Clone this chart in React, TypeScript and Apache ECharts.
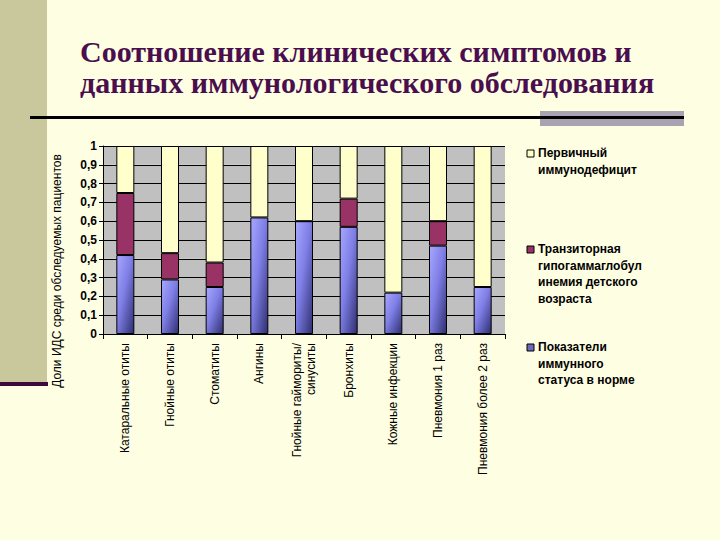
import React, { useEffect, useRef } from "react";
import * as echarts from "echarts";

const categories = [
  "Катаральные отиты",
  "Гнойные отиты",
  "Стоматиты",
  "Ангины",
  "Гнойные гаймориты/\nсинуситы",
  "Бронхиты",
  "Кожные инфекции",
  "Пневмония 1 раз",
  "Пневмония более 2 раз",
];
const normalStatus = [0.42, 0.29, 0.25, 0.62, 0.6, 0.57, 0.22, 0.47, 0.25];
const transient = [0.33, 0.14, 0.13, null, null, 0.15, null, 0.13, null];
const primary = [0.25, 0.57, 0.62, 0.38, 0.4, 0.28, 0.78, 0.4, 0.75];
const yTicks = [0, 0.1, 0.2, 0.3, 0.4, 0.5, 0.6, 0.7, 0.8, 0.9, 1];

const seriesNames = [
  "Показатели иммунного статуса в норме",
  "Транзиторная гипогаммаглобулинемия детского возраста",
  "Первичный иммунодефицит",
];
const legendLines = [
  ["Первичный", "иммунодефицит"],
  ["Транзиторная", "гипогаммаглобул", "инемия детского", "возраста"],
  ["Показатели", "иммунного", "статуса в норме"],
];

const BG = "#FEFEE2";
const RED = "#993366";
const YELLOW = "#FFFFCC";
const SANS = "Arial, Liberation Sans, sans-serif";

export default function App() {
  const ref = useRef<HTMLDivElement>(null);
  useEffect(() => {
    if (!ref.current) return;
    const chart = echarts.init(ref.current, null, { renderer: "svg" });
    const blueGrad = new echarts.graphic.LinearGradient(0, 0, 1, 1, [
      { offset: 0, color: "#A8A8FF" },
      { offset: 0.45, color: "#7E7EE6" },
      { offset: 1, color: "#2E2E70" },
    ]);
    const legendColors = [YELLOW, RED, "#6A6AB8"];
    const legendTops = [147, 243, 341];
    const legendGraphics: any[] = [];
    legendLines.forEach((lines, i) => {
      legendGraphics.push({
        type: "rect",
        shape: { x: 527, y: legendTops[i] + 3, width: 7, height: 7 },
        style: { fill: legendColors[i], stroke: "#000", lineWidth: 1 },
      });
      lines.forEach((ln, j) => {
        legendGraphics.push({
          type: "text",
          x: 538,
          y: legendTops[i] + j * 16.5,
          style: {
            text: ln,
            fontFamily: SANS,
            fontWeight: "bold",
            fontSize: 12,
            fill: "#000",
            textVerticalAlign: "top",
          },
        });
      });
    });
    chart.setOption({
      animation: false,
      backgroundColor: BG,
      grid: { left: 103, top: 146, right: 215, bottom: 206, containLabel: false },
      xAxis: {
        type: "category",
        data: categories,
        axisLine: { lineStyle: { color: "#000", width: 1 } },
        axisTick: { show: true, length: 5, lineStyle: { color: "#000" } },
        axisLabel: {
          rotate: 90,
          interval: 0,
          fontSize: 12,
          color: "#000",
          fontFamily: SANS,
          margin: 9,
          lineHeight: 14,
        },
      },
      yAxis: {
        type: "value",
        min: 0,
        max: 1,
        interval: 0.1,
        axisLine: { show: true, lineStyle: { color: "#000", width: 1 } },
        axisTick: { show: true, length: 4, lineStyle: { color: "#000" } },
        splitLine: { show: true, lineStyle: { color: "#000", width: 1 } },
        splitArea: { show: true, areaStyle: { color: ["#C0C0C0"] } },
        axisLabel: {
          color: "#000",
          fontSize: 12,
          fontWeight: "bold",
          fontFamily: SANS,
          margin: 6,
          formatter: (v: number) => {
            const t = yTicks.find((k) => Math.abs(k - v) < 1e-6);
            return String(t !== undefined ? t : v).replace(".", ",");
          },
        },
      },
      series: [
        {
          name: seriesNames[0],
          type: "bar",
          stack: "s",
          barWidth: 18,
          data: normalStatus,
          itemStyle: { color: blueGrad, borderColor: "#000", borderWidth: 1 },
        },
        {
          name: seriesNames[1],
          type: "bar",
          stack: "s",
          barWidth: 18,
          data: transient,
          itemStyle: { color: RED, borderColor: "#000", borderWidth: 1 },
        },
        {
          name: seriesNames[2],
          type: "bar",
          stack: "s",
          barWidth: 18,
          data: primary,
          itemStyle: { color: YELLOW, borderColor: "#000", borderWidth: 1 },
        },
      ],
      graphic: [
        {
          type: "rect",
          shape: { x: 0, y: 0, width: 47, height: 382 },
          style: { fill: "#C8C89C" },
        },
        {
          type: "rect",
          shape: { x: 0, y: 382, width: 48, height: 4 },
          style: { fill: "#3C0B3C" },
        },
        {
          type: "rect",
          shape: { x: 540, y: 111, width: 144, height: 15 },
          style: { fill: "#A8A2B3" },
        },
        {
          type: "line",
          shape: { x1: 30, y1: 117.5, x2: 684, y2: 117.5 },
          style: { stroke: "#000", lineWidth: 3 },
        },
        {
          type: "text",
          x: 80,
          y: 36,
          style: {
            text: "Соотношение клинических симптомов и\nданных иммунологического обследования",
            fontFamily: "Liberation Serif, Times New Roman, serif",
            fontWeight: "bold",
            fontSize: 30,
            fill: "#4A0E4E",
            lineHeight: 31,
            textVerticalAlign: "top",
          },
        },
        {
          type: "text",
          x: 57,
          y: 271,
          rotation: Math.PI / 2,
          style: {
            text: "Доли ИДС среди обследуемых пациентов",
            fontFamily: SANS,
            fontSize: 12,
            fill: "#000",
            textAlign: "center",
            textVerticalAlign: "middle",
          },
        },
        ...legendGraphics,
      ],
    });
    return () => chart.dispose();
  }, []);
  return (
    <div
      ref={ref}
      style={{ position: "absolute", left: 0, top: 0, width: 720, height: 540 }}
    />
  );
}
